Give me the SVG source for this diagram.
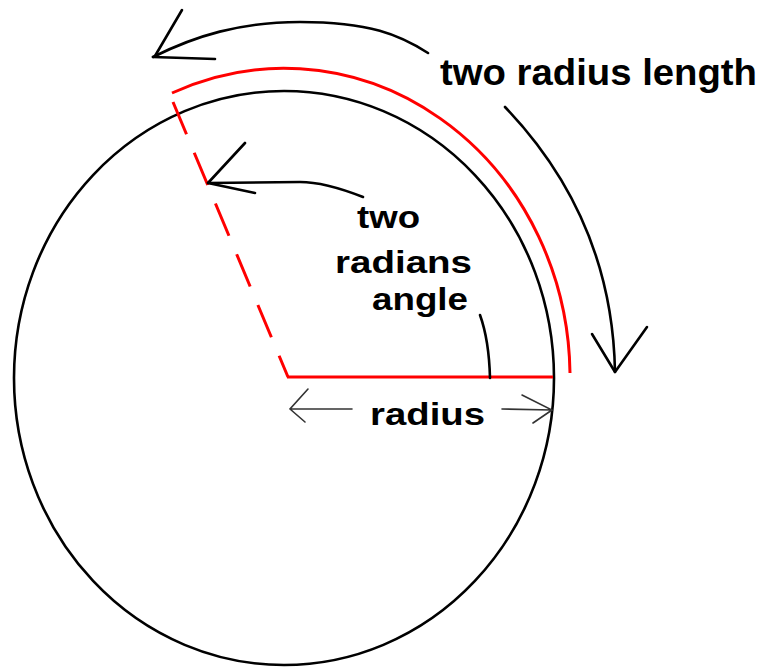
<svg xmlns="http://www.w3.org/2000/svg" width="766" height="668" viewBox="0 0 766 668">
<style>
.blk{fill:none;stroke:#000;stroke-width:2.6;stroke-linecap:round;stroke-linejoin:round}
.red{fill:none;stroke:#ff0000;stroke-width:3}
.gry{fill:none;stroke:#333;stroke-width:1.6;stroke-linecap:round}
.lbl{font-family:"Liberation Sans",Arial,sans-serif;font-weight:bold;fill:#000}
</style>
<rect width="766" height="668" fill="#fff"/>
<g id="circle">
<ellipse cx="284" cy="378" rx="270" ry="287" class="blk"/>
</g>
<g id="angle">
<line x1="173" y1="102" x2="288" y2="377" class="red" stroke-dasharray="35 20"/>
<line x1="287" y1="377" x2="553" y2="377" class="red"/>
<path d="M480,315 Q489,340 490,378" class="blk"/>
</g>
<g id="red-arc">
<path d="M172,93 A286,309 0 0 1 570,373" class="red"/>
</g>
<g id="connectors">
<path d="M428,53 C400,35 370,22 300,22 C240,22 195,36 153,57" class="blk"/>
<path d="M182,10 L155,56 M215,59 L153,57" class="blk"/>
<path d="M505,107 C570,175 613,260 615,372" class="blk"/>
<path d="M592,334 L615,372 L647,327" class="blk"/>
<path d="M363,197 C340,188 320,182 300,182 L208,183" class="blk"/>
<path d="M245,143 L208,183 L255,193" class="blk"/>
<path d="M352,409 L290,409 M308,389 L290,409 L305,422" class="gry"/>
<path d="M502,409 L552,410 M522,395 L552,410 L533,423" class="gry"/>
</g>
<g id="label-length">
<text x="440" y="85" class="lbl" font-size="37" textLength="317" lengthAdjust="spacingAndGlyphs">two radius length</text>
</g>
<g id="label-angle">
<text x="357" y="228" class="lbl" font-size="32" textLength="63" lengthAdjust="spacingAndGlyphs">two</text>
<text x="335" y="273" class="lbl" font-size="32" textLength="137" lengthAdjust="spacingAndGlyphs">radians</text>
<text x="372" y="310" class="lbl" font-size="32" textLength="96" lengthAdjust="spacingAndGlyphs">angle</text>
</g>
<g id="label-radius">
<text x="370" y="425" class="lbl" font-size="32" textLength="115" lengthAdjust="spacingAndGlyphs">radius</text>
</g>
</svg>
